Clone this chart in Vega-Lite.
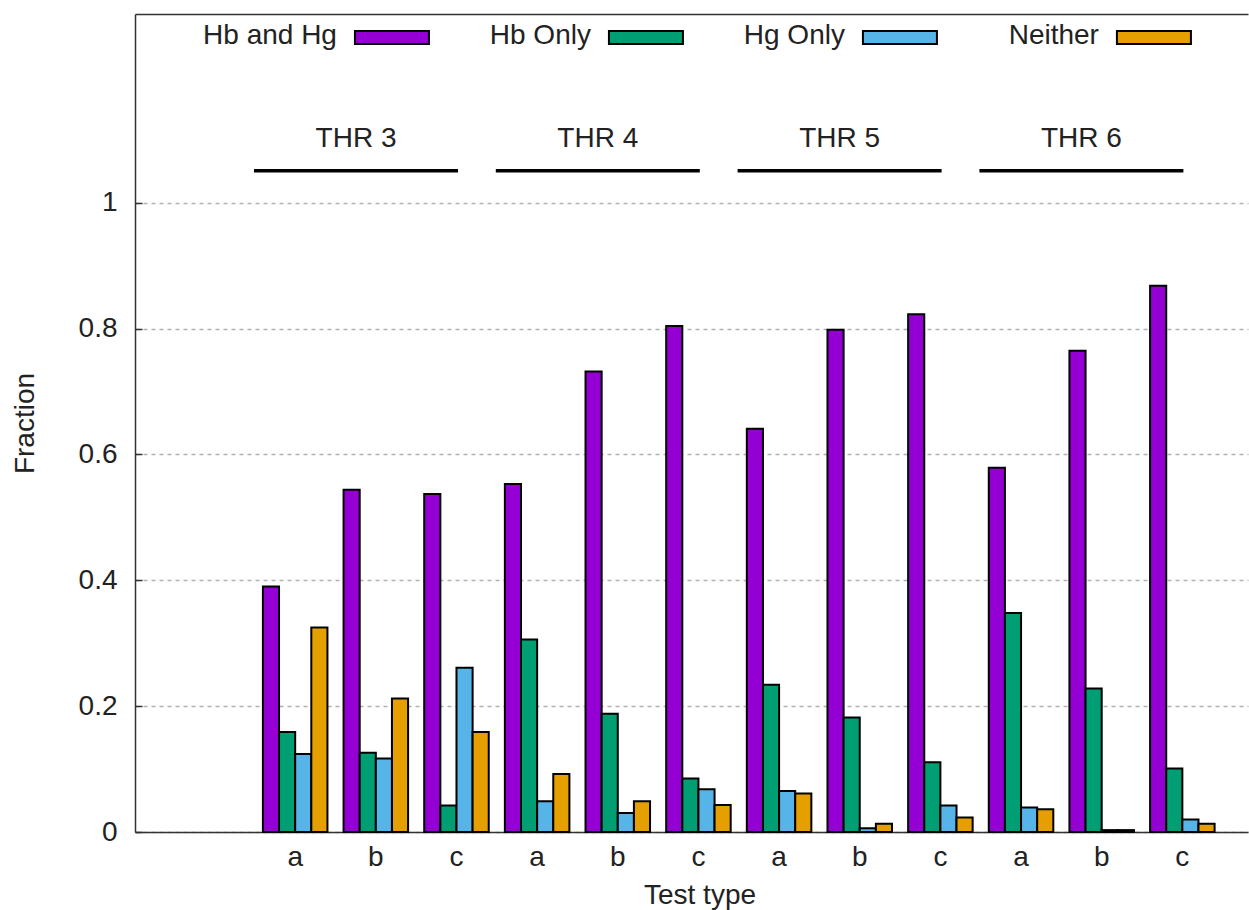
{
  "$schema": "https://vega.github.io/schema/vega-lite/v6.json",
  "width": 1113,
  "height": 818,
  "autosize": {"type": "none"},
  "padding": {"left": 135, "top": 14, "right": 1, "bottom": 78},
  "background": "white",
  "config": {
    "view": {"stroke": null},
    "font": "Liberation Sans",
    "text": {"font": "Liberation Sans"}
  },
  "datasets": {
    "bars": [
      {"thr": "THR 3", "test": "a", "group": "THR 3 a", "series": "Hb and Hg", "value": 0.390},
      {"thr": "THR 3", "test": "a", "group": "THR 3 a", "series": "Hb Only", "value": 0.159},
      {"thr": "THR 3", "test": "a", "group": "THR 3 a", "series": "Hg Only", "value": 0.124},
      {"thr": "THR 3", "test": "a", "group": "THR 3 a", "series": "Neither", "value": 0.325},
      {"thr": "THR 3", "test": "b", "group": "THR 3 b", "series": "Hb and Hg", "value": 0.544},
      {"thr": "THR 3", "test": "b", "group": "THR 3 b", "series": "Hb Only", "value": 0.126},
      {"thr": "THR 3", "test": "b", "group": "THR 3 b", "series": "Hg Only", "value": 0.117},
      {"thr": "THR 3", "test": "b", "group": "THR 3 b", "series": "Neither", "value": 0.212},
      {"thr": "THR 3", "test": "c", "group": "THR 3 c", "series": "Hb and Hg", "value": 0.537},
      {"thr": "THR 3", "test": "c", "group": "THR 3 c", "series": "Hb Only", "value": 0.042},
      {"thr": "THR 3", "test": "c", "group": "THR 3 c", "series": "Hg Only", "value": 0.261},
      {"thr": "THR 3", "test": "c", "group": "THR 3 c", "series": "Neither", "value": 0.159},
      {"thr": "THR 4", "test": "a", "group": "THR 4 a", "series": "Hb and Hg", "value": 0.553},
      {"thr": "THR 4", "test": "a", "group": "THR 4 a", "series": "Hb Only", "value": 0.306},
      {"thr": "THR 4", "test": "a", "group": "THR 4 a", "series": "Hg Only", "value": 0.049},
      {"thr": "THR 4", "test": "a", "group": "THR 4 a", "series": "Neither", "value": 0.092},
      {"thr": "THR 4", "test": "b", "group": "THR 4 b", "series": "Hb and Hg", "value": 0.732},
      {"thr": "THR 4", "test": "b", "group": "THR 4 b", "series": "Hb Only", "value": 0.188},
      {"thr": "THR 4", "test": "b", "group": "THR 4 b", "series": "Hg Only", "value": 0.030},
      {"thr": "THR 4", "test": "b", "group": "THR 4 b", "series": "Neither", "value": 0.049},
      {"thr": "THR 4", "test": "c", "group": "THR 4 c", "series": "Hb and Hg", "value": 0.804},
      {"thr": "THR 4", "test": "c", "group": "THR 4 c", "series": "Hb Only", "value": 0.085},
      {"thr": "THR 4", "test": "c", "group": "THR 4 c", "series": "Hg Only", "value": 0.068},
      {"thr": "THR 4", "test": "c", "group": "THR 4 c", "series": "Neither", "value": 0.043},
      {"thr": "THR 5", "test": "a", "group": "THR 5 a", "series": "Hb and Hg", "value": 0.641},
      {"thr": "THR 5", "test": "a", "group": "THR 5 a", "series": "Hb Only", "value": 0.234},
      {"thr": "THR 5", "test": "a", "group": "THR 5 a", "series": "Hg Only", "value": 0.065},
      {"thr": "THR 5", "test": "a", "group": "THR 5 a", "series": "Neither", "value": 0.061},
      {"thr": "THR 5", "test": "b", "group": "THR 5 b", "series": "Hb and Hg", "value": 0.798},
      {"thr": "THR 5", "test": "b", "group": "THR 5 b", "series": "Hb Only", "value": 0.182},
      {"thr": "THR 5", "test": "b", "group": "THR 5 b", "series": "Hg Only", "value": 0.006},
      {"thr": "THR 5", "test": "b", "group": "THR 5 b", "series": "Neither", "value": 0.013},
      {"thr": "THR 5", "test": "c", "group": "THR 5 c", "series": "Hb and Hg", "value": 0.823},
      {"thr": "THR 5", "test": "c", "group": "THR 5 c", "series": "Hb Only", "value": 0.111},
      {"thr": "THR 5", "test": "c", "group": "THR 5 c", "series": "Hg Only", "value": 0.042},
      {"thr": "THR 5", "test": "c", "group": "THR 5 c", "series": "Neither", "value": 0.023},
      {"thr": "THR 6", "test": "a", "group": "THR 6 a", "series": "Hb and Hg", "value": 0.579},
      {"thr": "THR 6", "test": "a", "group": "THR 6 a", "series": "Hb Only", "value": 0.348},
      {"thr": "THR 6", "test": "a", "group": "THR 6 a", "series": "Hg Only", "value": 0.039},
      {"thr": "THR 6", "test": "a", "group": "THR 6 a", "series": "Neither", "value": 0.036},
      {"thr": "THR 6", "test": "b", "group": "THR 6 b", "series": "Hb and Hg", "value": 0.765},
      {"thr": "THR 6", "test": "b", "group": "THR 6 b", "series": "Hb Only", "value": 0.228},
      {"thr": "THR 6", "test": "b", "group": "THR 6 b", "series": "Hg Only", "value": 0.003},
      {"thr": "THR 6", "test": "b", "group": "THR 6 b", "series": "Neither", "value": 0.003},
      {"thr": "THR 6", "test": "c", "group": "THR 6 c", "series": "Hb and Hg", "value": 0.868},
      {"thr": "THR 6", "test": "c", "group": "THR 6 c", "series": "Hb Only", "value": 0.101},
      {"thr": "THR 6", "test": "c", "group": "THR 6 c", "series": "Hg Only", "value": 0.020},
      {"thr": "THR 6", "test": "c", "group": "THR 6 c", "series": "Neither", "value": 0.013}
    ],
    "thresholds": [
      {"thr": "THR 3"}, {"thr": "THR 4"}, {"thr": "THR 5"}, {"thr": "THR 6"}
    ],
    "series": [
      {"series": "Hb and Hg"}, {"series": "Hb Only"}, {"series": "Hg Only"}, {"series": "Neither"}
    ]
  },
  "layer": [
    {
      "data": {"name": "bars"},
      "mark": {"type": "bar", "stroke": "#000000", "strokeWidth": 2, "opacity": 1},
      "encoding": {
        "x": {
          "field": "group", "type": "nominal", "sort": null,
          "scale": {"paddingInner": 0.2, "paddingOuter": 1.0174, "align": 0.793},
          "axis": {
            "title": "Test type",
            "labelExpr": "slice(datum.value, -1)",
            "labelAngle": 0, "ticks": false, "labelPadding": 11,
            "labelFontSize": 28, "labelColor": "#222222", "labelFont": "Liberation Sans",
            "titleFontSize": 28, "titleFontWeight": "normal", "titleColor": "#222222", "titleFont": "Liberation Sans",
            "titleX": 564.5, "titleY": 71, "titleBaseline": "alphabetic", "titleAlign": "center",
            "domainColor": "#333333", "domainWidth": 1.5, "grid": false
          }
        },
        "xOffset": {
          "field": "series", "type": "nominal",
          "sort": ["Hb and Hg", "Hb Only", "Hg Only", "Neither"],
          "scale": {"paddingInner": 0, "paddingOuter": 0}
        },
        "y": {
          "field": "value", "type": "quantitative",
          "scale": {"domain": [0, 1.3], "nice": false},
          "axis": {
            "title": "Fraction",
            "values": [0, 0.2, 0.4, 0.6, 0.8, 1],
            "format": "~g",
            "grid": true, "gridDash": [4, 4], "gridColor": "#b0b0b0", "gridWidth": 1.5,
            "ticks": true, "tickSize": -7, "tickColor": "#333333", "tickWidth": 1.5,
            "labelPadding": 25,
            "labelFontSize": 28, "labelColor": "#222222", "labelFont": "Liberation Sans",
            "titleFontSize": 28, "titleFontWeight": "normal", "titleColor": "#222222", "titleFont": "Liberation Sans",
            "titleX": -102, "titleY": 409, "titleBaseline": "alphabetic", "titleAlign": "center", "titleAngle": -90,
            "domainColor": "#333333", "domainWidth": 1.5
          }
        },
        "color": {
          "field": "series", "type": "nominal",
          "scale": {"domain": ["Hb and Hg", "Hb Only", "Hg Only", "Neither"], "range": ["#9400D3", "#009E73", "#56B4E9", "#E69F00"]},
          "legend": null
        }
      }
    },
    {
      "data": {"name": "thresholds"},
      "encoding": {
        "x": {
          "field": "thr", "type": "nominal", "sort": null,
          "scale": {"type": "point", "padding": 0.8015, "align": 0.5702},
          "axis": {"orient": "top", "labels": false, "ticks": false, "title": null, "grid": false, "domainColor": "#333333", "domainWidth": 1.5}
        }
      },
      "layer": [
        {
          "mark": {"type": "tick", "orient": "horizontal", "size": 204, "thickness": 3.5, "color": "#000000", "opacity": 1},
          "encoding": {"y": {"datum": 1.0508, "type": "quantitative"}}
        },
        {
          "mark": {"type": "text", "fontSize": 28, "font": "Liberation Sans", "color": "#222222", "baseline": "alphabetic", "align": "center"},
          "encoding": {"y": {"datum": 1.088, "type": "quantitative"}, "text": {"field": "thr"}}
        }
      ]
    },
    {
      "data": {"name": "series"},
      "encoding": {
        "x": {
          "field": "series", "type": "nominal", "sort": null,
          "scale": {"type": "point", "padding": 0.691, "align": 0.732},
          "axis": null
        }
      },
      "layer": [
        {
          "mark": {"type": "tick", "orient": "horizontal", "size": 74, "thickness": 13, "stroke": "#000000", "strokeWidth": 2, "opacity": 1},
          "encoding": {
            "y": {"datum": 1.2627, "type": "quantitative"},
            "color": {"field": "series", "type": "nominal", "legend": null}
          }
        },
        {
          "mark": {"type": "text", "fontSize": 28, "font": "Liberation Sans", "color": "#222222", "baseline": "alphabetic", "align": "right", "dx": -55},
          "encoding": {"y": {"datum": 1.2519, "type": "quantitative"}, "text": {"field": "series"}}
        }
      ]
    }
  ],
  "resolve": {"scale": {"x": "independent"}, "axis": {"x": "independent"}}
}
